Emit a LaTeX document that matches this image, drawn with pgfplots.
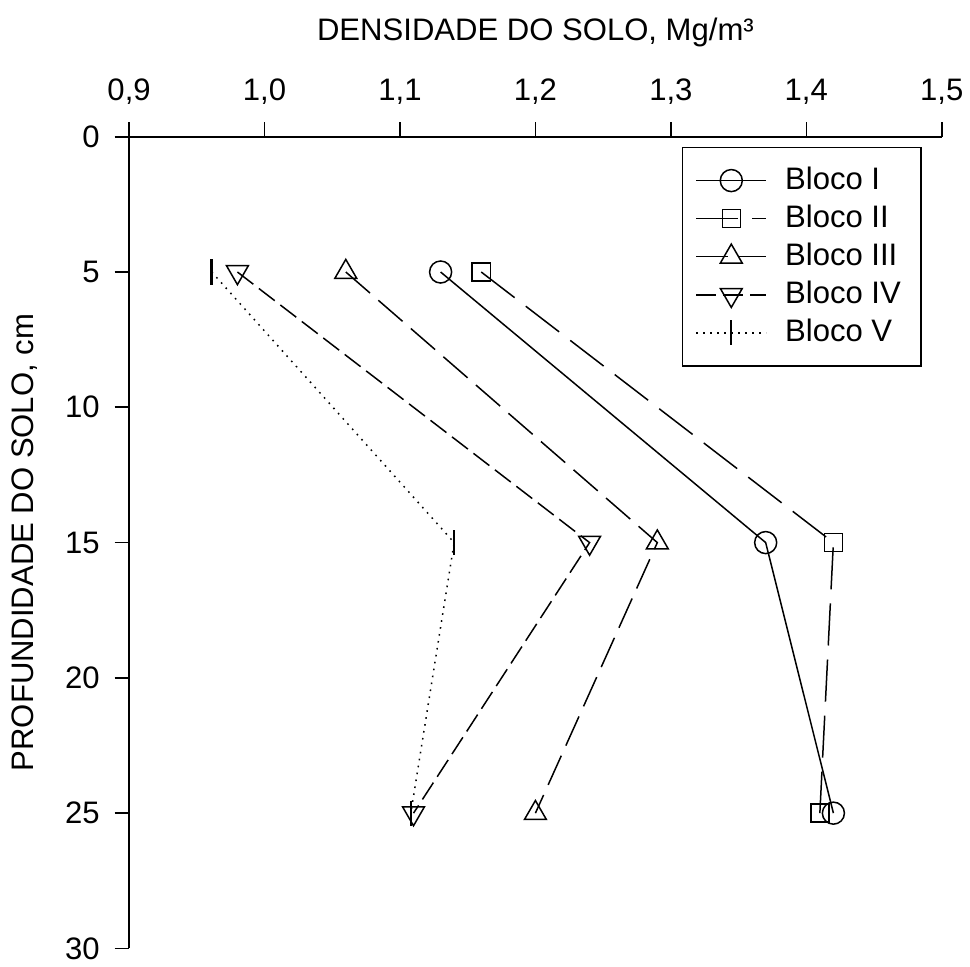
\documentclass[border=0pt]{standalone}
\usepackage{pgfplots}
\pgfplotsset{compat=1.18}
\usepackage{fontspec}
\setmainfont{Liberation Sans}
\begin{document}
\begin{tikzpicture}
\begin{axis}[
  scale only axis,
  width=405.5bp, height=405bp,
  xmin=0.9, xmax=1.5, ymin=0, ymax=30,
  y dir=reverse,
  axis x line*=top, axis y line*=left,
  axis line style={-, line width=0.8pt},
  tick style={line width=0.8pt, black},
  tick align=outside,
  major tick length=7.2bp,
  xtick={0.9,1.0,1.1,1.2,1.3,1.4,1.5},
  xticklabels={{0,9},{1,0},{1,1},{1,2},{1,3},{1,4},{1,5}},
  ytick={0,5,10,15,20,25,30},
  /pgf/number format/assume math mode=true,
  ticklabel style={font=\fontsize{15.5bp}{17bp}\selectfont},
  xticklabel style={yshift=5.5bp},
  yticklabel style={xshift=-4bp},
  label style={font=\fontsize{15.5bp}{17bp}\selectfont},
  xlabel={DENSIDADE DO SOLO, Mg/m³},
  ylabel={PROFUNDIDADE DO SOLO, cm},
  xlabel style={at={([yshift=52bp]axis description cs:0.5,1)}, anchor=center, inner ysep=9bp},
  ylabel style={at={([xshift=-52bp]axis description cs:0,0.5)}, anchor=center, inner ysep=6bp},
  legend style={at={(0.9753,0.9877)}, anchor=north east, draw=black, line width=0.8pt,
    font=\fontsize{15.5bp}{16bp}\selectfont, row sep=0pt, column sep=5.5bp,
    inner xsep=6.5bp, inner ysep=7bp,
    nodes={inner xsep=3.5bp, inner ysep=3.25bp, text height=10.5bp, text depth=2bp}},
  legend cell align=left,
  legend image code/.code={\draw[mark repeat=2, mark phase=2, #1] plot coordinates {(0bp,0bp) (17.5bp,0bp) (35bp,0bp)};},
  every axis plot/.append style={line width=0.75pt, black},
]
\addplot[mark=o, mark size=5.5bp, mark options={solid, fill=white}] coordinates {(1.13,5) (1.37,15) (1.42,25)};
\addlegendentry{Bloco I\hspace{9bp}}
\addplot[dash pattern=on 21bp off 7bp, mark=square, mark size=4.5bp, mark options={solid, fill=white}] coordinates {(1.16,5) (1.42,15) (1.41,25)};
\addlegendentry{Bloco II\hspace{9bp}}
\addplot[dash pattern=on 16bp off 5.5bp, mark=triangle, mark size=6.3bp, mark options={solid, fill=white}] coordinates {(1.06,5) (1.29,15) (1.20,25)};
\addlegendentry{Bloco III\hspace{9bp}}
\addplot[dash pattern=on 10bp off 3.5bp, mark=triangle, mark size=6.3bp, mark options={solid, rotate=180, fill=white}] coordinates {(0.98,5) (1.24,15) (1.11,25)};
\addlegendentry{Bloco IV\hspace{9bp}}
\addplot[dash pattern=on 0.8bp off 2.7bp, mark=|, mark size=6.25bp, mark options={solid, line width=1.2pt}] coordinates {(0.961,5) (1.14,15) (1.108,25)};
\addlegendentry{Bloco V\hspace{9bp}}
\end{axis}
\end{tikzpicture}
\end{document}
